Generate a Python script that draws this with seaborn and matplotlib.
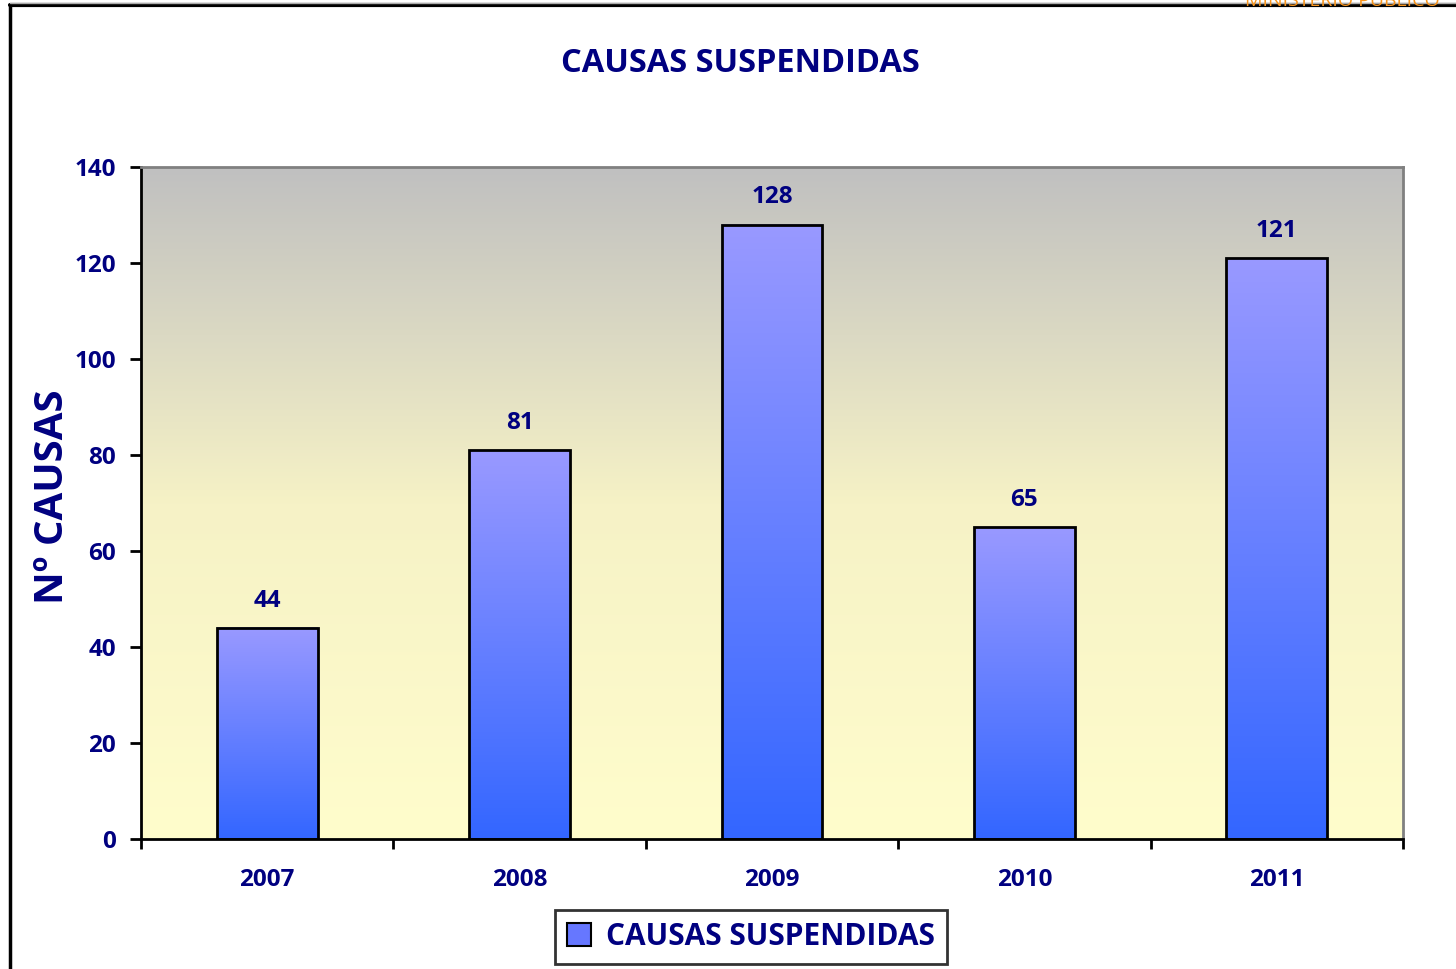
import numpy as np
import pandas as pd
import matplotlib
matplotlib.use("Agg")
import matplotlib.pyplot as plt
import seaborn as sns
from matplotlib.colors import LinearSegmentedColormap
from matplotlib.patches import Rectangle
from matplotlib.lines import Line2D

years = ["2007", "2008", "2009", "2010", "2011"]
values = [44, 81, 128, 65, 121]
series_name = "CAUSAS SUSPENDIDAS"
title = "CAUSAS SUSPENDIDAS"
ylabel = "Nº CAUSAS"
yticks = [0, 20, 40, 60, 80, 100, 120, 140]

navy = "#000080"
sns.set_theme(style="white")
plt.rcParams['font.family'] = ['Open Sans', 'DejaVu Sans']

fig = plt.figure(figsize=(14.56, 9.69), dpi=100)
ax = fig.add_axes([141/1456, 1-839/969, (1403-141)/1456, (839-167)/969])

df = pd.DataFrame({"year": years, "value": values})
sns.barplot(data=df, x="year", y="value", ax=ax, width=0.4,
            color="#6677ff", edgecolor="black", linewidth=2, zorder=3)

ax.set_ylim(0, 140)
ax.set_xlim(-0.5, len(years) - 0.5)

# background gradient
bg = LinearSegmentedColormap.from_list("bg", ["#FFFDCC", "#F6F2C6", "#C0C0C0"])
grad = np.linspace(0, 1, 256).reshape(-1, 1)
ax.imshow(grad, aspect="auto", cmap=bg, origin="lower",
          extent=[-0.5, len(years) - 0.5, 0, 140], zorder=0)

# bar gradients
barcm = LinearSegmentedColormap.from_list("bar", ["#3366FF", "#9999FF"])
for p in ax.patches:
    x0, y0 = p.get_x(), p.get_y()
    w, h = p.get_width(), p.get_height()
    ax.imshow(grad, aspect="auto", cmap=barcm, origin="lower",
              extent=[x0, x0 + w, y0, y0 + h], zorder=2)
    p.set_facecolor("none")
    ax.annotate(f"{int(h)}", (x0 + w/2, h), xytext=(0, 11), textcoords="offset points",
                ha="center", va="bottom", fontsize=17.5, fontweight="bold", color=navy)
ax.set_xlim(-0.5, len(years) - 0.5)
ax.set_ylim(0, 140)

ax.set_yticks(yticks)
ax.set_yticklabels([str(t) for t in yticks], fontsize=17.5, fontweight="bold", color=navy)
ax.set_xticks(range(len(years)))
ax.set_xticklabels(years, fontsize=17.5, fontweight="bold", color=navy)
ax.set_xticks(np.arange(-0.5, len(years)), minor=True)
ax.tick_params(axis="x", which="major", length=0, pad=21)
ax.tick_params(axis="x", which="minor", length=7, width=2, color="black", direction="out", bottom=True)
ax.tick_params(axis="y", length=8, width=2, color="black", direction="out", left=True, pad=10)
ax.set_xlabel("")
ax.set_ylabel(ylabel, fontsize=29, fontweight="bold", color=navy)
ax.yaxis.set_label_coords(-0.0705, 0.509)
ax.yaxis.label.set_va("center")

for s in ["left", "bottom"]:
    ax.spines[s].set_color("black")
    ax.spines[s].set_linewidth(2)
for s in ["top", "right"]:
    ax.spines[s].set_color("#808080")
    ax.spines[s].set_linewidth(2)
ax.grid(False)

fig.text(740/1456, 1-64/969, title, ha="center", va="center",
         fontsize=23.5, fontweight="bold", color=navy)

# legend
handle = Rectangle((0, 0), 1, 1, facecolor="#6677ff", edgecolor="black", linewidth=1.5)
leg = fig.legend([handle], [series_name], loc="center", bbox_to_anchor=(751/1456, 1-937/969),
                 frameon=True, fontsize=21.5, handlelength=0.8, handleheight=0.8,
                 handletextpad=0.5, borderpad=0.4, fancybox=False)
leg.get_frame().set_edgecolor("black")
leg.get_frame().set_linewidth(2)
for t in leg.get_texts():
    t.set_color(navy)
    t.set_fontweight("bold")

# outer frame lines
fig.add_artist(Line2D([10/1456, 10/1456], [0, 1-5/969], color="black", lw=2.5))
fig.add_artist(Line2D([10/1456, 1], [1-5/969, 1-5/969], color="black", lw=3))
fig.add_artist(Line2D([10/1456, 1], [1-3/969, 1-3/969], color="#aaaaaa", lw=1))
fig.text(1245/1456, 1-1/969, "MINISTERIO PUBLICO", ha="left", va="center",
         fontsize=14, color="#F7941D")

fig.savefig("out.png", dpi=100)
